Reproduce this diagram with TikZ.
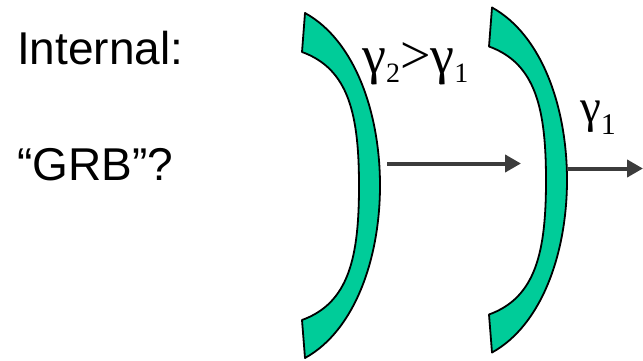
\documentclass[tikz,border=0pt]{standalone}
\usepackage{fontspec}
\setmainfont{Liberation Sans}
\newfontfamily\serfont{Liberation Serif}
\usetikzlibrary{arrows.meta}
\definecolor{shellgreen}{RGB}{0,204,153}
\definecolor{arrowgray}{RGB}{60,60,60}
\begin{document}
\begin{tikzpicture}[x=1pt,y=-1pt,
  shellstyle/.style={fill=shellgreen,draw=black,line width=1.8pt,line join=round},
  flowarrow/.style={draw=arrowgray,line width=4pt,-{Triangle[length=16pt,width=17pt]}},
  bigtext/.style={anchor=base west,inner sep=0pt,font=\fontsize{46}{50}\selectfont},
  gamtext/.style={anchor=base west,inner sep=0pt,font=\serfont\fontsize{54}{54}\selectfont},
  gamtextb/.style={anchor=base west,inner sep=0pt,font=\serfont\fontsize{47}{47}\selectfont}]
\useasboundingbox (0,0) rectangle (643,361);
% shell 1
\draw[shellstyle] (305,13) .. controls (405,68) and (405,303) .. (305,358)
  -- (302,320) .. controls (349,303) and (359,257) .. (359,186)
  .. controls (359,115) and (349,69) .. (302,52) -- cycle;
% shell 2
\begin{scope}[shift={(187,-5.5)}]
\draw[shellstyle] (305,13) .. controls (405,68) and (405,303) .. (305,358)
  -- (302,320) .. controls (349,303) and (359,257) .. (359,186)
  .. controls (359,115) and (349,69) .. (302,52) -- cycle;
\end{scope}
% arrows
\coordinate (a1s) at (387,163.5);
\coordinate (a1e) at (521,163.5);
\coordinate (a2s) at (567,168.5);
\coordinate (a2e) at (643,168.5);
\draw[flowarrow] (a1s) -- (a1e);
\draw[flowarrow] (a2s) -- (a2e);
% texts
\node[bigtext] (t1) at (17,65) {Internal:};
\node[bigtext] (t2) at (17,180) {“GRB”?};
\node[gamtext] (g1) at (362,74) {γ{\fontsize{28}{28}\selectfont\raisebox{-9pt}{2}}>γ{\fontsize{28}{28}\selectfont\raisebox{-9pt}{1}}};
\node[gamtextb] (g2) at (580,122) {γ{\fontsize{30}{30}\selectfont\raisebox{-12pt}{1}}};
\end{tikzpicture}
\end{document}
